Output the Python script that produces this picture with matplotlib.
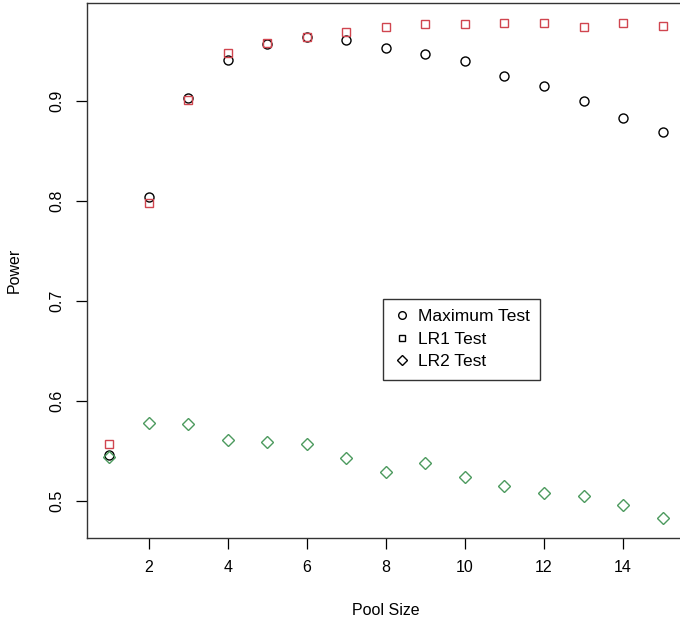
import numpy as np
import matplotlib.pyplot as plt

plt.rcParams['font.family'] = ['Liberation Sans', 'DejaVu Sans']

# Data
pool_size = np.arange(1, 16)
max_test = [0.546, 0.804, 0.903, 0.941, 0.957, 0.964, 0.961, 0.953, 0.947,
            0.940, 0.925, 0.915, 0.900, 0.883, 0.869]
lr1_test = [0.557, 0.798, 0.901, 0.948, 0.958, 0.964, 0.969, 0.974, 0.977,
            0.977, 0.978, 0.978, 0.974, 0.978, 0.975]
lr2_test = [0.544, 0.578, 0.577, 0.561, 0.559, 0.557, 0.543, 0.529, 0.538,
            0.524, 0.515, 0.508, 0.505, 0.496, 0.483]

red = '#d0454f'
green = '#4c9a5e'

fig = plt.figure(figsize=(6.8, 6.24), dpi=100)
ax = fig.add_axes([0.128, 0.138, 0.879, 0.857])

ax.plot(pool_size, max_test, 'o', mfc='none', mec='black', ms=6.5, mew=1.0)
ax.plot(pool_size, lr1_test, 's', mfc='none', mec=red, ms=5.5, mew=1.0)
ax.plot(pool_size, lr2_test, 'D', mfc='none', mec=green, ms=6, mew=1.0)

ax.set_xlim(0.44, 15.56)
ax.set_ylim(0.4635, 0.998)
ax.set_xticks([2, 4, 6, 8, 10, 12, 14])
ax.set_yticks([0.5, 0.6, 0.7, 0.8, 0.9])
ax.tick_params(direction='out', length=8, width=0.9, labelsize=11.5, pad=8)
for lab in ax.get_yticklabels():
    lab.set_rotation(90)
    lab.set_va('center')
for s in ax.spines.values():
    s.set_linewidth(1.0)
    s.set_color('#333333')

ax.set_xlabel('Pool Size', fontsize=11.5, labelpad=20)
ax.set_ylabel('Power', fontsize=11.5, labelpad=20)

h1 = ax.plot([], [], 'o', mfc='none', mec='black', ms=5.5, mew=1.0)[0]
h2 = ax.plot([], [], 's', mfc='none', mec='black', ms=5, mew=1.0)[0]
h3 = ax.plot([], [], 'D', mfc='none', mec='black', ms=5.5, mew=1.0)[0]
leg = ax.legend([h1, h2, h3], ['Maximum Test', 'LR1 Test', 'LR2 Test'],
                loc='upper left', bbox_to_anchor=(0.495, 0.447),
                fontsize=12.5, frameon=True, fancybox=False,
                handlelength=1.0, handletextpad=0.4, borderpad=0.6,
                labelspacing=0.42, borderaxespad=0)
leg.get_frame().set_edgecolor('black')
leg.get_frame().set_linewidth(1.0)

fig.savefig('out.png', dpi=100)
